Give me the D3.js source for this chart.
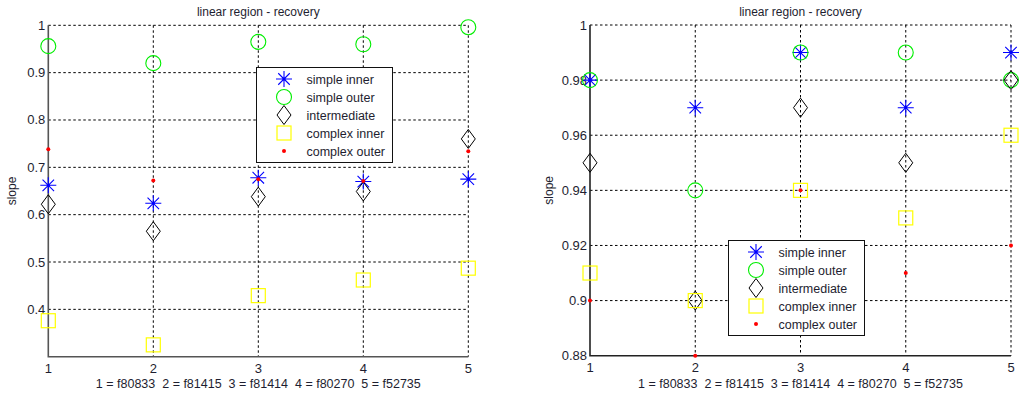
<!DOCTYPE html>
<html>
<head>
<meta charset="utf-8">
<script src="https://cdn.jsdelivr.net/npm/d3@7"></script>
<style>
  body { margin: 0; background: #fff; }
  svg { display: block; font-family: "Liberation Sans", Arial, sans-serif; }
  text { fill: #1e1e30; }
</style>
</head>
<body>
<div id="chart"></div>
<script>
//! DATA
const files = [1, 2, 3, 4, 5];
const xLabel = '1 = f80833  2 = f81415  3 = f81414  4 = f80270  5 = f52735';
const title = 'linear region - recovery';
const seriesNames = ['simple inner', 'simple outer', 'intermediate', 'complex inner', 'complex outer'];

// left panel
const leftSimpleInner = [0.662, 0.624, 0.678, 0.670, 0.675];
const leftSimpleOuter = [0.956, 0.920, 0.965, 0.960, 0.996];
const leftIntermediate = [0.622, 0.565, 0.638, 0.649, 0.760];
const leftComplexInner = [0.376, 0.325, 0.429, 0.462, 0.487];
const leftComplexOuter = [0.738, 0.672, 0.675, 0.671, 0.734];
const leftTicks = [0.4, 0.5, 0.6, 0.7, 0.8, 0.9, 1];

// right panel
const rightSimpleInner = [0.98, 0.97, 0.99, 0.97, 0.99];
const rightSimpleOuter = [0.98, 0.94, 0.99, 0.99, 0.98];
const rightIntermediate = [0.95, 0.90, 0.97, 0.95, 0.98];
const rightComplexInner = [0.91, 0.90, 0.94, 0.93, 0.96];
const rightComplexOuter = [0.90, 0.88, 0.94, 0.91, 0.92];
const rightTicks = [0.88, 0.9, 0.92, 0.94, 0.96, 0.98, 1];

//! CONSTS
const WIDTH = 1024;
const HEIGHT = 394;
const markerStyle = [
  { type: 'star', color: '#0000ff' },
  { type: 'circle', color: '#00ee00' },
  { type: 'diamond', color: '#000' },
  { type: 'square', color: '#ffff00' },
  { type: 'dot', color: '#ff0000' }
];

const panels = [
  {
    left: 48.3, right: 468.3, top: 25.3, bottom: 356.7,
    domain: [0.3, 1], ticks: leftTicks, fmt: d3.format('.1~f'),
    axisColor: '#555',
    series: [leftSimpleInner, leftSimpleOuter, leftIntermediate, leftComplexInner, leftComplexOuter],
    legend: { x: 256.5, y: 67.5, w: 136, h: 95 },
    ylabelX: 12
  },
  {
    left: 590, right: 1011, top: 25, bottom: 355.7,
    domain: [0.88, 1], ticks: rightTicks, fmt: d3.format('.2~f'),
    axisColor: '#222',
    series: [rightSimpleInner, rightSimpleOuter, rightIntermediate, rightComplexInner, rightComplexOuter],
    legend: { x: 728.5, y: 240.5, w: 136, h: 95 },
    ylabelX: 549
  }
];

//! SVG
const svg = d3.select('#chart')
  .append('svg')
  .attr('width', WIDTH)
  .attr('height', HEIGHT);

function drawMarker(g, type, color, cx, cy) {
  if (type === 'star') {
    const r = 8, d = r * 0.72;
    g.append('path')
      .attr('d', `M${cx - r},${cy}H${cx + r}M${cx},${cy - r}V${cy + r}` +
        `M${cx - d},${cy - d}L${cx + d},${cy + d}M${cx - d},${cy + d}L${cx + d},${cy - d}`)
      .attr('stroke', color).attr('stroke-width', 1.1).attr('fill', 'none');
    g.append('circle').attr('cx', cx).attr('cy', cy).attr('r', 1.3).attr('fill', color);
  } else if (type === 'circle') {
    g.append('circle').attr('cx', cx).attr('cy', cy).attr('r', 7.5)
      .attr('stroke', color).attr('stroke-width', 1.1).attr('fill', 'none');
  } else if (type === 'diamond') {
    g.append('path')
      .attr('d', `M${cx},${cy - 9.5}L${cx + 7},${cy}L${cx},${cy + 9.5}L${cx - 7},${cy}Z`)
      .attr('stroke', color).attr('stroke-width', 1).attr('fill', 'none');
  } else if (type === 'square') {
    g.append('rect').attr('x', cx - 7).attr('y', cy - 7).attr('width', 14).attr('height', 14)
      .attr('stroke', color).attr('stroke-width', 1.2).attr('fill', 'none');
  } else {
    g.append('circle').attr('cx', cx).attr('cy', cy).attr('r', 2)
      .attr('fill', color);
  }
}

panels.forEach(p => {
  const x = d3.scaleLinear().domain([1, 5]).range([p.left, p.right]);
  const y = d3.scaleLinear().domain(p.domain).range([p.bottom, p.top]);
  const g = svg.append('g');

  // grid
  g.append('g').selectAll('line')
    .data(p.ticks.filter(t => t !== p.domain[0]))
    .enter().append('line')
    .attr('x1', p.left).attr('x2', p.right)
    .attr('y1', d => y(d)).attr('y2', d => y(d))
    .attr('stroke', '#000').attr('stroke-dasharray', '2.5,2.5').attr('stroke-width', 1);
  g.append('g').selectAll('line')
    .data(files.slice(1))
    .enter().append('line')
    .attr('x1', d => x(d)).attr('x2', d => x(d))
    .attr('y1', p.top).attr('y2', p.bottom)
    .attr('stroke', '#000').attr('stroke-dasharray', '2.5,2.5').attr('stroke-width', 1);

  // axes lines
  g.append('path')
    .attr('d', `M${p.left},${p.top}V${p.bottom}H${p.right}`)
    .attr('stroke', p.axisColor).attr('stroke-width', 1.6).attr('fill', 'none');

  // tick labels
  g.append('g').selectAll('text')
    .data(p.ticks)
    .enter().append('text')
    .attr('x', p.left - 3).attr('y', d => y(d) + 4.5)
    .attr('text-anchor', 'end').attr('font-size', 13)
    .text(d => p.fmt(d));
  g.append('g').selectAll('text')
    .data(files)
    .enter().append('text')
    .attr('x', d => x(d)).attr('y', p.bottom + 16)
    .attr('text-anchor', 'middle').attr('font-size', 13)
    .text(d => d);

  // labels
  g.append('text')
    .attr('x', (p.left + p.right) / 2).attr('y', 16)
    .attr('text-anchor', 'middle').attr('font-size', 12)
    .text(title);
  g.append('text')
    .attr('x', (p.left + p.right) / 2).attr('y', 388)
    .attr('text-anchor', 'middle').attr('font-size', 12.5)
    .attr('xml:space', 'preserve')
    .style('white-space', 'pre')
    .text(xLabel);
  g.append('text')
    .attr('transform', `translate(${p.ylabelX + 4},${(p.top + p.bottom) / 2}) rotate(-90)`)
    .attr('text-anchor', 'middle').attr('font-size', 12)
    .text('slope');

  // points
  const pts = g.append('g');
  p.series.forEach((vals, si) => {
    vals.forEach((v, i) => {
      drawMarker(pts, markerStyle[si].type, markerStyle[si].color, x(files[i]), y(v));
    });
  });

  // legend
  const L = p.legend;
  const lg = g.append('g');
  lg.append('rect')
    .attr('x', L.x).attr('y', L.y).attr('width', L.w).attr('height', L.h)
    .attr('fill', '#fff').attr('stroke', '#111').attr('stroke-width', 1);
  seriesNames.forEach((name, si) => {
    const ry = L.y + 11.5 + si * 18;
    drawMarker(lg, markerStyle[si].type, markerStyle[si].color, L.x + 27.5, ry);
    lg.append('text')
      .attr('x', L.x + 50).attr('y', ry + 4.5)
      .attr('font-size', 12.5)
      .text(name);
  });
});
</script>
</body>
</html>
